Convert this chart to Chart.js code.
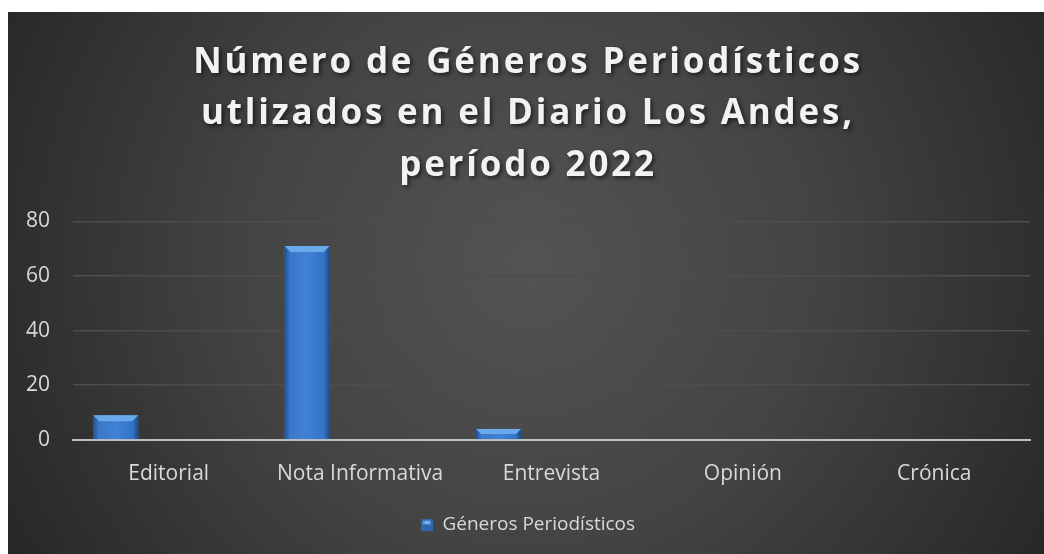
<!DOCTYPE html>
<html>
<head>
<meta charset="utf-8">
<script src="https://cdn.jsdelivr.net/npm/chart.js@4.4.1/dist/chart.umd.min.js"></script>
<style>
  html, body { margin: 0; padding: 0; background: #ffffff; width: 1044px; height: 554px; overflow: hidden; }
  #wrap { position: absolute; left: 8px; top: 12px; width: 1036px; height: 542px; }
</style>
</head>
<body>
<div id="wrap"><canvas id="c" width="1036" height="542"></canvas></div>
<script>
const categories = ["Editorial", "Nota Informativa", "Entrevista", "Opinión", "Crónica"];
const generosValues = [9, 71, 4, 0, 0.3];
const yTicks = [0, 20, 40, 60, 80];
const titleLines = ["Número de Géneros Periodísticos", "utlizados en el Diario Los Andes,", "período 2022"];
const seriesLabel = "Géneros Periodísticos";

const bgPlugin = {
  id: 'bg',
  beforeDraw(chart) {
    const ctx = chart.ctx, w = chart.width, h = chart.height;
    const cx = 522, cy = 250;
    const g = ctx.createRadialGradient(cx, cy, 0, cx, cy, 620);
    g.addColorStop(0, '#535353');
    g.addColorStop(0.45, '#444444');
    g.addColorStop(1, '#252525');
    ctx.save();
    ctx.fillStyle = g;
    ctx.fillRect(0, 0, w, h);
    ctx.restore();
    if (chart.titleBlock && !chart.titleBlock._wrapped) {
      const tb = chart.titleBlock;
      const orig = tb.draw.bind(tb);
      tb.draw = function () {
        const c = chart.ctx;
        c.save();
        c.shadowColor = 'rgba(0,0,0,0.6)';
        c.shadowBlur = 4;
        c.shadowOffsetX = 2;
        c.shadowOffsetY = 2;
        try { c.letterSpacing = '2.8px'; } catch (e) {}
        orig();
        c.restore();
      };
      tb._wrapped = true;
    }
  }
};

function barGradient(ctx, x0, x1) {
  const g = ctx.createLinearGradient(x0, 0, x1, 0);
  g.addColorStop(0, '#234f8f');
  g.addColorStop(0.12, '#3a78c9');
  g.addColorStop(0.5, '#3f82d6');
  g.addColorStop(0.88, '#3473c4');
  g.addColorStop(1, '#1c4785');
  return g;
}

const barStylePlugin = {
  id: 'barStyle',
  afterDatasetsDraw(chart) {
    const ctx = chart.ctx;
    const meta = chart.getDatasetMeta(0);
    ctx.save();
    meta.data.forEach((el) => {
      const p = el.getProps(['x', 'y', 'base', 'width'], true);
      const x0 = p.x - p.width / 2, x1 = p.x + p.width / 2;
      const top = Math.min(p.y, p.base), bot = Math.max(p.y, p.base);
      const hgt = bot - top;
      if (hgt <= 0) return;
      ctx.fillStyle = barGradient(ctx, x0, x1);
      ctx.fillRect(x0, top, p.width, hgt);
      const cap = Math.min(6, hgt * 0.5);
      if (cap > 0.5) {
        ctx.beginPath();
        ctx.moveTo(x0, top);
        ctx.lineTo(x1, top);
        ctx.lineTo(x1 - cap, top + cap);
        ctx.lineTo(x0 + cap, top + cap);
        ctx.closePath();
        ctx.fillStyle = '#6aa9ea';
        ctx.fill();
      }
    });
    ctx.restore();
  }
};

const legendBox = (() => {
  const cv = document.createElement('canvas');
  cv.width = 12; cv.height = 12;
  const c = cv.getContext('2d');
  c.fillStyle = '#2f66b0'; c.fillRect(0, 0, 12, 12);
  c.fillStyle = '#5a98de'; c.fillRect(2, 2, 8, 4);
  c.fillStyle = '#8fc0f0'; c.fillRect(4, 3, 4, 2);
  return cv;
})();

new Chart(document.getElementById('c'), {
  type: 'bar',
  data: {
    labels: categories,
    datasets: [
      { label: seriesLabel, data: generosValues, backgroundColor: '#3a78c9', borderWidth: 0 },
      { label: '_b', data: categories.map(() => null), backgroundColor: 'rgba(0,0,0,0)' },
      { label: '_c', data: categories.map(() => null), backgroundColor: 'rgba(0,0,0,0)' }
    ]
  },
  options: {
    responsive: false,
    animation: false,
    devicePixelRatio: 1,
    categoryPercentage: 0.83,
    barPercentage: 0.85,
    layout: { padding: { left: 18, right: 14, top: 0, bottom: 10 } },
    plugins: {
      title: {
        display: true,
        text: titleLines,
        color: '#f2f2f2',
        font: { family: 'Open Sans', size: 35, weight: 'bold', lineHeight: 1.47 },
        padding: { top: 25, bottom: 30 }
      },
      legend: {
        position: 'bottom',
        labels: {
          color: '#d9d9d9',
          font: { family: 'Open Sans', size: 19 },
          usePointStyle: true,
          pointStyle: legendBox,
          boxWidth: 12,
          boxHeight: 12,
          padding: 6,
          filter: (item) => item.datasetIndex === 0
        }
      },
      tooltip: { enabled: false }
    },
    scales: {
      x: {
        afterFit: (s) => { s.paddingLeft = 0; s.paddingRight = 0; },
        grid: { display: false, drawTicks: false },
        border: { display: true, color: '#bfbfbf', width: 2 },
        ticks: { color: '#d9d9d9', font: { family: 'Open Sans', size: 21 }, padding: 22 }
      },
      y: {
        min: 0,
        max: 80,
        afterBuildTicks: (axis) => { axis.ticks = yTicks.map(v => ({ value: v })); },
        afterFit: (s) => { s.width = 47; },
        grid: { color: '#4d4d4d', lineWidth: 1.5, drawTicks: false },
        border: { display: false },
        ticks: { color: '#d9d9d9', font: { family: 'Open Sans', size: 21 }, padding: 23 }
      }
    }
  },
  plugins: [bgPlugin, barStylePlugin]
});
</script>
</body>
</html>
